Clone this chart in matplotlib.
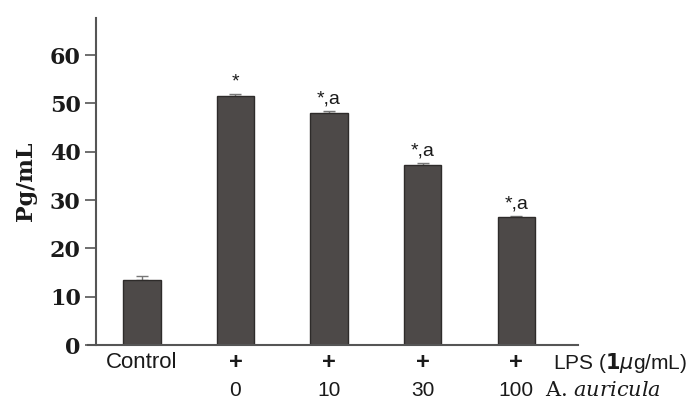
import numpy as np
import matplotlib
matplotlib.use("Agg")
import matplotlib.pyplot as plt

# données
groups = ["Control", "0", "10", "30", "100"]
lps = ["", "+", "+", "+", "+"]
values = [13.5, 51.5, 48.1, 37.3, 26.4]
errors = [0.8, 0.5, 0.3, 0.3, 0.3]
marks = ["", "*", "*,a", "*,a", "*,a"]

bar_color = "#4d4948"
axis_color = "#555555"
text_color = "#1a1a1a"

fig = plt.figure(figsize=(6.98, 4.19), dpi=100)
ax = fig.add_axes([96/698, 1-345/419, (578-96)/698, (345-18)/419])

x = np.arange(len(values))
ax.bar(x, values, width=0.40, color=bar_color, edgecolor="#2e2b2a", linewidth=1.0, zorder=2)
ax.errorbar(x, values, yerr=[np.zeros(len(errors)), errors], fmt="none",
            ecolor="#777777", elinewidth=1, capsize=4, capthick=1, zorder=1)

ax.set_xlim(-0.49, 4.66)
ax.set_ylim(0, 67.7)
ax.set_yticks(np.arange(0, 61, 10))
ax.set_yticklabels([str(v) for v in range(0, 61, 10)],
                   fontfamily="DejaVu Serif", fontweight="bold", fontsize=16, color=text_color)
ax.tick_params(axis="y", length=8, width=1.2, color=axis_color, pad=3)
ax.set_xticks([])

for s in ["top", "right"]:
    ax.spines[s].set_visible(False)
for s in ["left", "bottom"]:
    ax.spines[s].set_color(axis_color)
    ax.spines[s].set_linewidth(1.5)
ax.spines["bottom"].set_bounds(-0.49 - 8/93.5, 4.66)

ax.set_ylabel("Pg/mL", fontfamily="DejaVu Serif", fontweight="bold", fontsize=16,
              color=text_color, labelpad=9)

# annotations au-dessus des barres
for xi, v, e, m in zip(x, values, errors, marks):
    if m:
        ax.text(xi, v + e + 0.8, m, ha="center", va="bottom",
                fontfamily="Liberation Sans", fontsize=14, color=text_color)

# étiquettes sous l'axe
trans = ax.get_xaxis_transform()
for xi, l, g in zip(x, lps, groups):
    if xi == 0:
        ax.text(xi, -0.055, g, transform=trans, ha="center", va="center",
                fontfamily="Liberation Sans", fontsize=16, color=text_color)
    else:
        ax.text(xi, -0.055, l, transform=trans, ha="center", va="center",
                fontfamily="Liberation Sans", fontsize=17, fontweight="bold", color=text_color)
        ax.text(xi, -0.14, g, transform=trans, ha="center", va="center",
                fontfamily="Liberation Sans", fontsize=15, color=text_color)

fig.text(553/698, 1-363/419, r"LPS ($\mathbf{1}\mu$g/mL)", ha="left", va="center",
         fontfamily="Liberation Sans", fontsize=15, color=text_color,
         math_fontfamily="dejavusans")
fig.text(545/698, 1-390/419, r"A. $\mathit{auricula}$", ha="left", va="center",
         fontfamily="DejaVu Serif", fontsize=15, color=text_color,
         math_fontfamily="dejavuserif")

fig.savefig("out.png", dpi=100, facecolor="white")
